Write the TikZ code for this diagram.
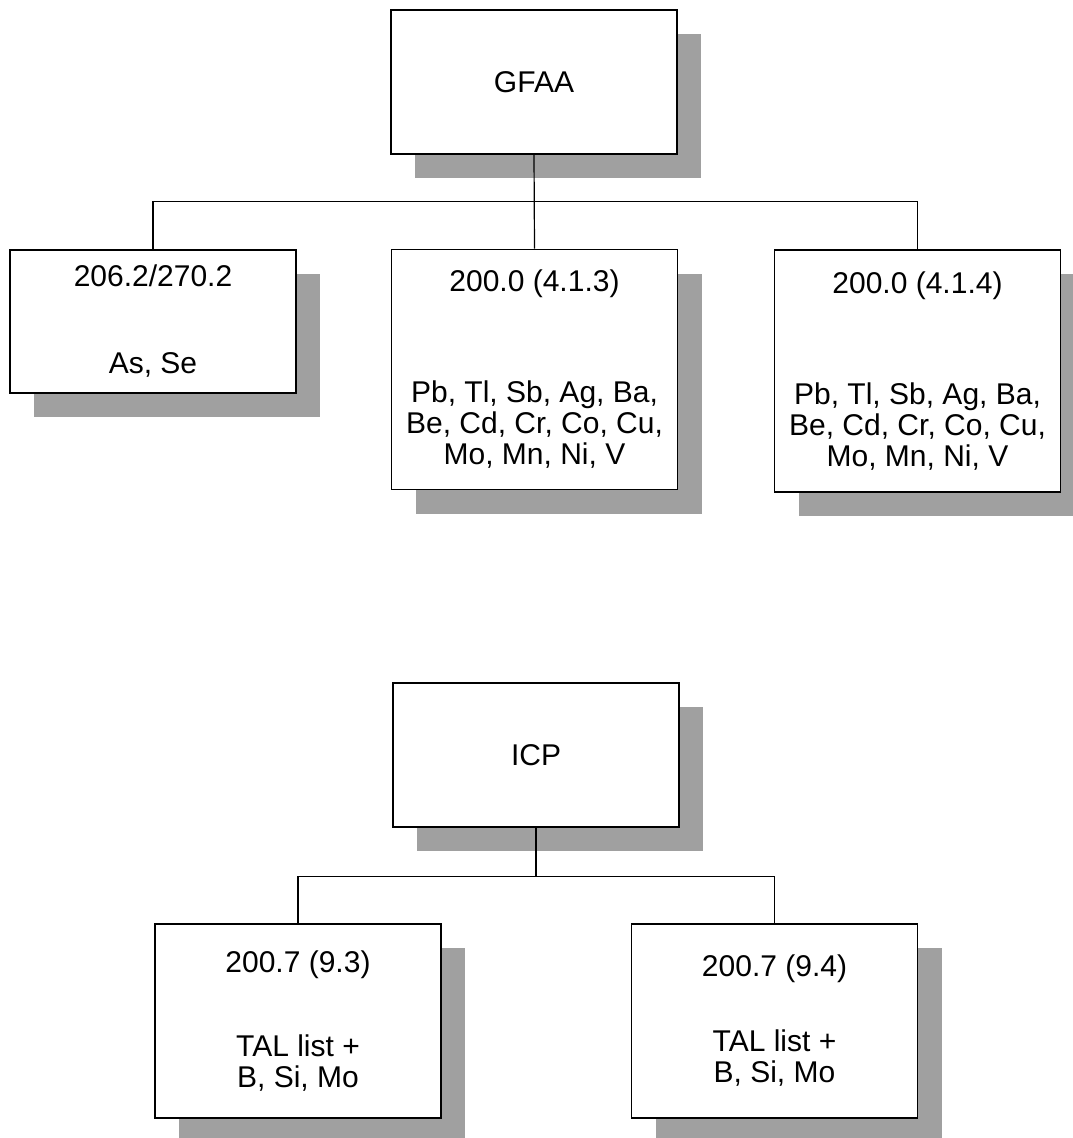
\documentclass[tikz,border=0pt]{standalone}
\usepackage{fontspec}
\setmainfont{Liberation Sans}
\usetikzlibrary{positioning, shadows, calc}
\definecolor{shadegray}{RGB}{160, 160, 160}
\tikzset{
    method/.style={rectangle, draw=black, fill=white, line width=1.6pt,
                   align=center, font=\fontsize{30}{31}\selectfont,
                   minimum width=286pt, inner sep=0pt,
                   drop shadow={shadow xshift=24pt, shadow yshift=-24pt,
                                fill=shadegray, opacity=1}},
    link/.style={line width=1.2pt},
}

\begin{document}
\begin{tikzpicture}[x=1pt, y=-1pt]
    \useasboundingbox (0,0) rectangle (1073,1138);

    % GFAA group
    \node[method, minimum height=144pt] (gfaa) at (534,82) {GFAA};
    \node[method, minimum height=143pt] (asse) at (153,321.5)
        {206.2/270.2\\[56pt] As, Se};
    \node[method, minimum height=240pt] (gfaa3) at (534.5,369.5)
        {200.0 (4.1.3)\\[80pt] Pb, Tl, Sb, Ag, Ba,\\ Be, Cd, Cr, Co, Cu,\\ Mo, Mn, Ni, V};
    \node[method, minimum height=242pt] (gfaa4) at (917.5,371)
        {200.0 (4.1.4)\\[80pt] Pb, Tl, Sb, Ag, Ba,\\ Be, Cd, Cr, Co, Cu,\\ Mo, Mn, Ni, V};

    \draw[link] (asse.north) -- ++(0,-48) -| (gfaa4.north);
    \draw[link] (gfaa.south) -- (gfaa3.north);

    % ICP group
    \node[method, minimum height=144pt] (icp) at (536,755) {ICP};
    \node[method, minimum height=194pt] (icp3) at (298,1021)
        {200.7 (9.3)\\[53pt] TAL list +\\ B, Si, Mo};
    \node[method, minimum height=194pt] (icp4) at (774.5,1021)
        {200.7 (9.4)\\[44pt] TAL list +\\ B, Si, Mo};

    \draw[link] (icp3.north) -- ++(0,-47) coordinate (icpbus) -| (icp4.north);
    \draw[link] (icp.south) -- (icp.south |- icpbus);
\end{tikzpicture}
\end{document}
